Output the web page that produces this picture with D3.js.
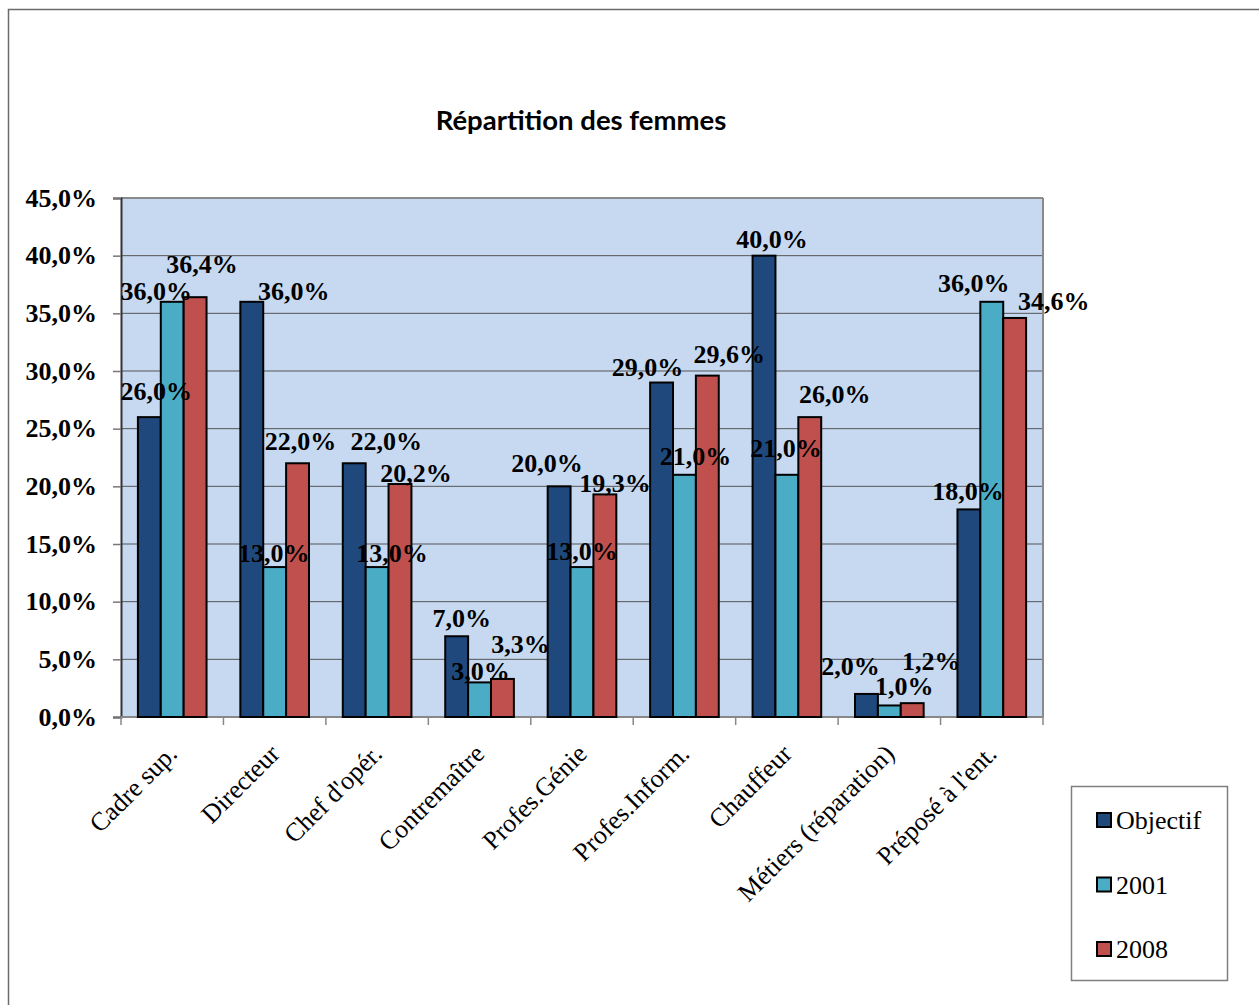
<!DOCTYPE html>
<html>
<head>
<meta charset="utf-8">
<script src="https://cdn.jsdelivr.net/npm/d3@7"></script>
<style>
  html, body { margin: 0; padding: 0; background: #fff; }
  svg { display: block; }
</style>
</head>
<body>
<script>
// ---- data ----
const categories = ["Cadre sup.", "Directeur", "Chef d'opér.", "Contremaître", "Profes.Génie",
                    "Profes.Inform.", "Chauffeur", "Métiers (réparation)", "Préposé à l'ent."];
const seriesNames = ["Objectif", "2001", "2008"];
const objectif = [26.0, 36.0, 22.0, 7.0, 20.0, 29.0, 40.0, 2.0, 18.0];
const values2001 = [36.0, 13.0, 13.0, 3.0, 13.0, 21.0, 21.0, 1.0, 36.0];
const values2008 = [36.4, 22.0, 20.2, 3.3, 19.3, 29.6, 26.0, 1.2, 34.6];
const yTicks = [0, 5, 10, 15, 20, 25, 30, 35, 40, 45];
const titleText = "Répartition des femmes";

// ---- style / layout (label nudges, in px, relative to bar top/centre) ----
const colors = ["#1F497D", "#4BACC6", "#C0504D"];
const labelDx = [
  [7, 42, 32, 5, -12, -14, 8, -16, -1],
  [-16, -1, 15, 1, 0, 11, -1, 15, -18],
  [7, 3, 16, 18, 10, 22, 25, 19, 39]
];
const labelDy = [
  [-10, 5, -6, -2, -7, 0, -1, -12, -2],
  [5, 2, 2, 5, 0, -3, -11, -3, -3],
  [-17, -6, 5, -19, 5, -6, -7, -26, -1]
];

const W = 1259, H = 1005;
const plot = { left: 121, right: 1043, top: 198, bottom: 717 };

const svg = d3.select("body").append("svg").attr("width", W).attr("height", H);

// outer chart border
svg.append("rect").attr("x", 8.5).attr("y", 9.5).attr("width", W + 20).attr("height", H + 20)
  .attr("fill", "#fff").attr("stroke", "#6b6b6b").attr("stroke-width", 1.5);

// title
svg.append("text").attr("x", 581).attr("y", 130).attr("text-anchor", "middle")
  .style("font-family", "Lato, 'Liberation Sans', sans-serif").style("font-weight", "bold")
  .style("font-size", "27.5px").attr("fill", "#000").text(titleText);

const series = [objectif, values2001, values2008];
const rows = categories.map((c, i) => ({ cat: c, vals: series.map(s => s[i]) }));

const x0 = d3.scaleBand().domain(categories).range([plot.left, plot.right]).padding(0);
const bw = x0.bandwidth();
const x1 = d3.scaleBand().domain(seriesNames).range([bw * 0.165, bw * 0.835]).padding(0);
const y = d3.scaleLinear().domain([0, 45]).range([plot.bottom, plot.top]);

// plot background
svg.append("rect").attr("x", plot.left).attr("y", plot.top)
  .attr("width", plot.right - plot.left).attr("height", plot.bottom - plot.top)
  .attr("fill", "#C6D9F1");

// gridlines
svg.append("g").selectAll("line").data(yTicks.filter(t => t > 0 && t < 45)).join("line")
  .attr("x1", plot.left).attr("x2", plot.right)
  .attr("y1", d => y(d)).attr("y2", d => y(d))
  .attr("stroke", "#555").attr("stroke-width", 1);

// plot border top/right
svg.append("line").attr("x1", plot.left).attr("x2", plot.right).attr("y1", plot.top).attr("y2", plot.top)
  .attr("stroke", "#8a8a8a").attr("stroke-width", 2);
svg.append("line").attr("x1", plot.right).attr("x2", plot.right).attr("y1", plot.top).attr("y2", plot.bottom)
  .attr("stroke", "#8a8a8a").attr("stroke-width", 2);

// y axis
const yAxis = d3.axisLeft(y).tickValues(yTicks).tickSize(8).tickPadding(16)
  .tickFormat(d => d3.format(".1f")(d).replace(".", ",") + "%");
const gy = svg.append("g").attr("transform", `translate(${plot.left},0)`).call(yAxis);
gy.select(".domain").attr("stroke", "#333").attr("stroke-width", 2);
gy.selectAll(".tick line").attr("stroke", "#777").attr("stroke-width", 1.5);
gy.selectAll(".tick text").style("font-family", "'Liberation Serif', 'Times New Roman', serif")
  .style("font-weight", "bold").style("font-size", "26px").attr("fill", "#000");

// x axis (ticks at category boundaries)
const gx = svg.append("g").attr("transform", `translate(0,${plot.bottom})`);
gx.append("line").attr("x1", plot.left).attr("x2", plot.right).attr("y1", 0).attr("y2", 0)
  .attr("stroke", "#888").attr("stroke-width", 2);
const bounds = categories.map(c => x0(c)).concat([plot.right]);
gx.selectAll("line.tk").data(bounds).join("line").attr("class", "tk")
  .attr("x1", d => d).attr("x2", d => d).attr("y1", 0).attr("y2", 8)
  .attr("stroke", "#888").attr("stroke-width", 1.5);
gx.selectAll("text").data(categories).join("text")
  .attr("transform", d => `translate(${x0(d) + bw / 2},32) rotate(-45)`)
  .attr("text-anchor", "end").attr("dy", "0.35em")
  .style("font-family", "'Liberation Serif', 'Times New Roman', serif")
  .style("font-size", "26px").attr("fill", "#000").text(d => d);

// bars
const groups = svg.append("g").selectAll("g").data(rows).join("g")
  .attr("transform", d => `translate(${x0(d.cat)},0)`);
groups.selectAll("rect").data(d => d.vals.map((v, k) => ({ v, k }))).join("rect")
  .attr("x", d => x1(seriesNames[d.k]))
  .attr("y", d => y(d.v))
  .attr("width", x1.bandwidth())
  .attr("height", d => y(0) - y(d.v))
  .attr("fill", d => colors[d.k])
  .attr("stroke", "#000").attr("stroke-width", 2);

// data labels
const fmt = v => d3.format(".1f")(v).replace(".", ",") + "%";
const lab = svg.append("g");
rows.forEach((r, i) => {
  r.vals.forEach((v, k) => {
    lab.append("text")
      .attr("x", x0(r.cat) + x1(seriesNames[k]) + x1.bandwidth() / 2 + labelDx[k][i])
      .attr("y", y(v) - 7 + labelDy[k][i])
      .attr("text-anchor", "middle")
      .style("font-family", "'Liberation Serif', 'Times New Roman', serif")
      .style("font-weight", "bold").style("font-size", "26px").attr("fill", "#000")
      .text(fmt(v));
  });
});

// legend
const lg = svg.append("g");
lg.append("rect").attr("x", 1071.5).attr("y", 786.5).attr("width", 156).attr("height", 194)
  .attr("fill", "#fff").attr("stroke", "#7f7f7f").attr("stroke-width", 1.5);
const items = lg.selectAll("g").data(seriesNames).join("g")
  .attr("transform", (d, i) => `translate(1097,${820 + i * 64.5})`);
items.append("rect").attr("x", 0).attr("y", -7).attr("width", 14).attr("height", 14)
  .attr("fill", (d, i) => colors[i]).attr("stroke", "#000").attr("stroke-width", 2);
items.append("text").attr("x", 19).attr("y", 0).attr("dy", "0.35em")
  .style("font-family", "'Liberation Serif', 'Times New Roman', serif")
  .style("font-size", "26px").attr("fill", "#000").text(d => d);
</script>
</body>
</html>
